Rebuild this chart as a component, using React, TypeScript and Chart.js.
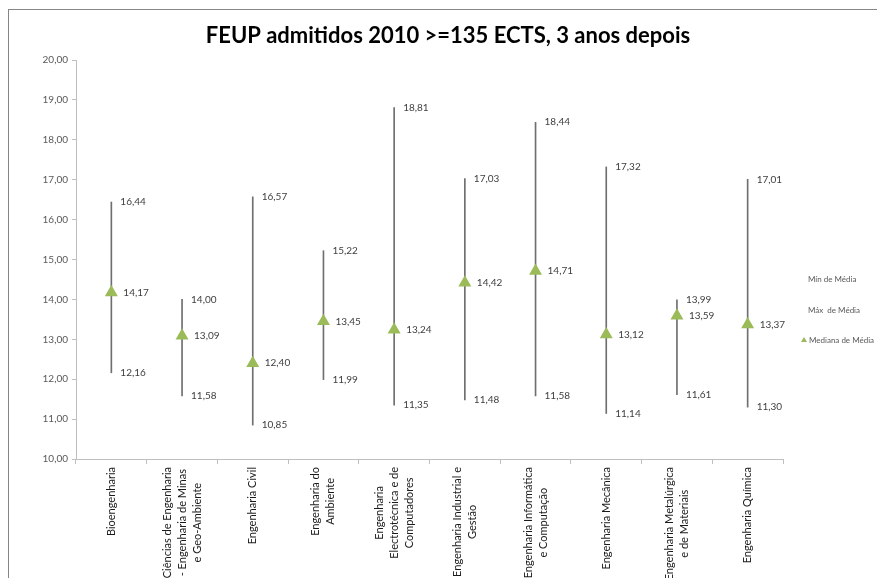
import React, { useEffect, useRef } from "react";
import { Chart, registerables } from "chart.js";

Chart.register(...registerables);

const titleText = "FEUP admitidos 2010 >=135 ECTS, 3 anos depois";

const categories: string[][] = [
  ["Bioengenharia"],
  ["Ciências de Engenharia", "- Engenharia de Minas", "e Geo-Ambiente"],
  ["Engenharia Civil"],
  ["Engenharia do", "Ambiente"],
  ["Engenharia", "Electrotécnica e de", "Computadores"],
  ["Engenharia Industrial e", "Gestão"],
  ["Engenharia Informática", "e Computação"],
  ["Engenharia Mecânica"],
  ["Engenharia Metalúrgica", "e de Materiais"],
  ["Engenharia Química"],
];

const minValues = [12.16, 11.58, 10.85, 11.99, 11.35, 11.48, 11.58, 11.14, 11.61, 11.3];
const maxValues = [16.44, 14.0, 16.57, 15.22, 18.81, 17.03, 18.44, 17.32, 13.99, 17.01];
const medianValues = [14.17, 13.09, 12.4, 13.45, 13.24, 14.42, 14.71, 13.12, 13.59, 13.37];

const yMin = 10;
const yMax = 20;
const yStep = 1;

const legendLabels = ["Mín de Média", "Máx  de Média", "Mediana de Média"];

const FONT = "Lato, 'Open Sans', sans-serif";
const GREEN = "#9BBB59";

const fmt = (v: number) => v.toFixed(2).replace(".", ",");

export default function App() {
  const ref = useRef<HTMLCanvasElement | null>(null);

  useEffect(() => {
    if (!ref.current) return;

    const overlay = {
      id: "overlay",
      afterDraw(chart: any) {
        const ctx = chart.ctx as CanvasRenderingContext2D;
        const xs = chart.scales.x;
        const ys = chart.scales.y;
        const area = chart.chartArea;
        ctx.save();

        // title
        ctx.font = `bold 22px ${FONT}`;
        ctx.fillStyle = "#000";
        ctx.textAlign = "center";
        ctx.textBaseline = "alphabetic";
        ctx.fillText(titleText, 448, 43);

        // data labels
        ctx.font = `10px ${FONT}`;
        ctx.fillStyle = "#404040";
        ctx.textAlign = "left";
        ctx.textBaseline = "middle";
        for (let i = 0; i < categories.length; i++) {
          const x = xs.getPixelForValue(i);
          ctx.fillText(fmt(maxValues[i]), x + 9, ys.getPixelForValue(maxValues[i]));
          ctx.fillText(fmt(minValues[i]), x + 9, ys.getPixelForValue(minValues[i]));
          ctx.fillText(fmt(medianValues[i]), x + 12, ys.getPixelForValue(medianValues[i]));
        }

        // category labels
        ctx.font = `11px ${FONT}`;
        ctx.fillStyle = "#1a1a1a";
        ctx.textAlign = "center";
        ctx.textBaseline = "middle";
        const lineH = 15;
        for (let i = 0; i < categories.length; i++) {
          const x = xs.getPixelForValue(i);
          const lines = categories[i];
          const maxW = Math.max(...lines.map((l) => ctx.measureText(l).width));
          const n = lines.length;
          const cy = area.bottom + 8 + maxW / 2;
          lines.forEach((l, j) => {
            const cx = x + (j - (n - 1) / 2) * lineH;
            ctx.save();
            ctx.translate(cx, cy);
            ctx.rotate(-Math.PI / 2);
            ctx.fillText(l, 0, 0);
            ctx.restore();
          });
        }

        // legend
        ctx.font = `8px ${FONT}`;
        ctx.fillStyle = "#595959";
        ctx.textAlign = "left";
        ctx.textBaseline = "middle";
        ctx.fillText(legendLabels[0], 808, 279);
        ctx.fillText(legendLabels[1], 808, 310);
        ctx.fillText(legendLabels[2], 809, 340);
        ctx.fillStyle = GREEN;
        ctx.beginPath();
        ctx.moveTo(804, 337);
        ctx.lineTo(807, 342);
        ctx.lineTo(801, 342);
        ctx.closePath();
        ctx.fill();

        ctx.restore();
      },
    };

    const chart = new Chart(ref.current, {
      type: "bar",
      data: {
        labels: categories.map((c) => c.join(" ")),
        datasets: [
          {
            type: "line",
            label: legendLabels[2],
            data: medianValues,
            showLine: false,
            pointStyle: "triangle",
            pointRadius: 7.5,
            pointBackgroundColor: GREEN,
            pointBorderColor: GREEN,
            pointBorderWidth: 0,
            order: 0,
          } as any,
          {
            type: "bar",
            label: "range",
            data: minValues.map((m, i) => [m, maxValues[i]]),
            backgroundColor: "#6f6f6f",
            barThickness: 1,
            order: 1,
          } as any,
        ],
      },
      options: {
        animation: false,
        responsive: true,
        maintainAspectRatio: false,
        layout: { padding: { left: 0, right: 94, top: 60, bottom: 0 } },
        plugins: {
          legend: { display: false },
          tooltip: { enabled: false },
          title: { display: false },
        },
        scales: {
          x: {
            ticks: { display: false },
            grid: {
              display: true,
              drawOnChartArea: false,
              drawTicks: true,
              tickLength: 5,
              color: "#bfbfbf",
              offset: true,
            },
            border: { color: "#bfbfbf" },
            afterFit: (s: any) => {
              s.height = 119;
            },
          },
          y: {
            min: yMin,
            max: yMax,
            ticks: {
              stepSize: yStep,
              color: "#595959",
              font: { family: FONT, size: 10 },
              padding: 4,
              callback: (v: any) => fmt(Number(v)),
            },
            grid: {
              display: true,
              drawOnChartArea: false,
              drawTicks: true,
              tickLength: 4,
              color: "#bfbfbf",
            },
            border: { color: "#bfbfbf" },
            afterFit: (s: any) => {
              s.width = 76;
            },
          },
        },
      },
      plugins: [overlay],
    });

    return () => chart.destroy();
  }, []);

  return (
    <div
      style={{
        position: "fixed",
        left: 0,
        top: 0,
        width: 877,
        height: 578,
        background: "#fff",
        overflow: "hidden",
      }}
    >
      <div
        style={{
          position: "absolute",
          left: 8,
          top: 9,
          right: -2,
          bottom: -2,
          borderTop: "1px solid #868686",
          borderLeft: "1px solid #868686",
        }}
      />
      <canvas ref={ref} style={{ position: "absolute", left: 0, top: 0 }} />
    </div>
  );
}
